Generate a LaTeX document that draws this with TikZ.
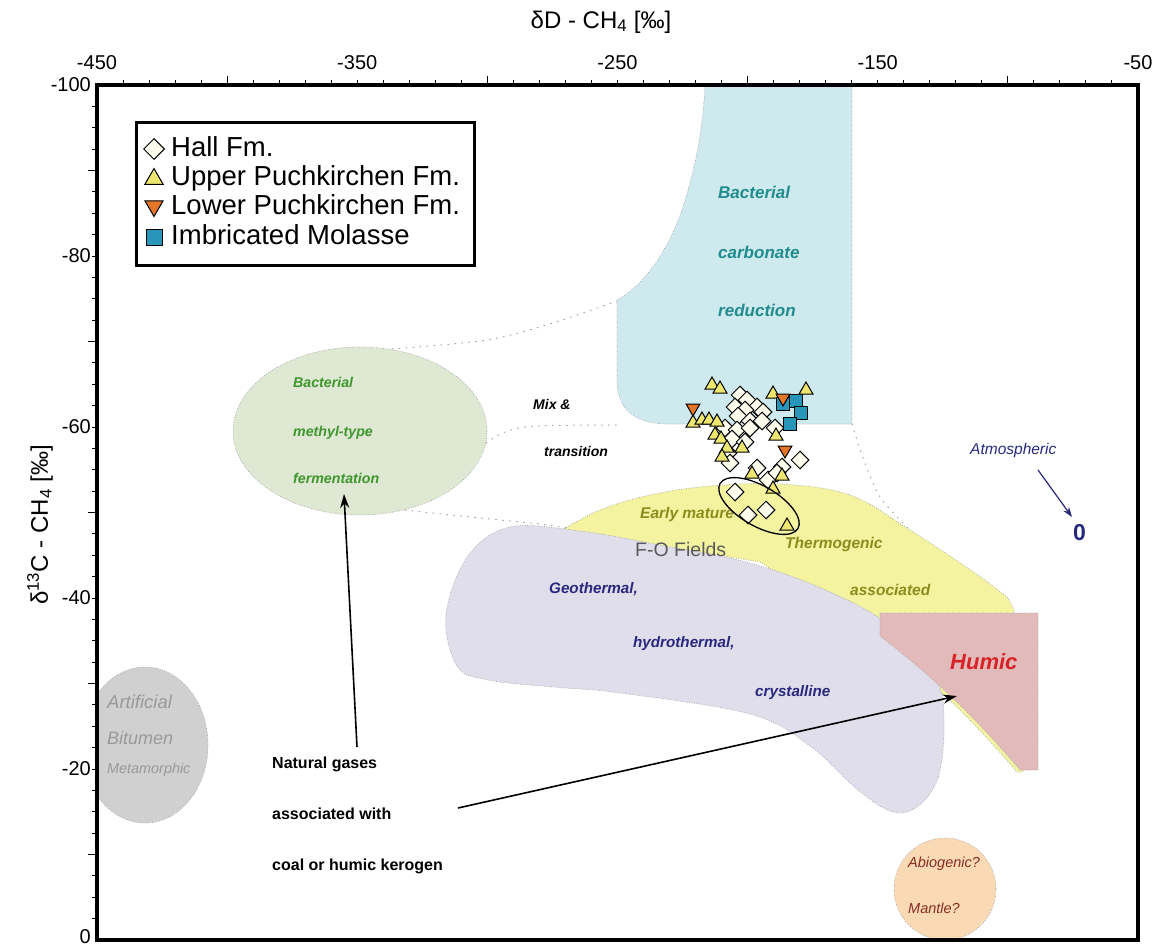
\documentclass[tikz,border=0pt]{standalone}
\usepackage{fontspec}
\setmainfont{Liberation Sans}
\usetikzlibrary{arrows.meta,shapes.geometric}
\definecolor{cyanfill}{RGB}{206,234,238}
\definecolor{greenfill}{RGB}{222,232,210}
\definecolor{yellowfill}{RGB}{243,243,160}
\definecolor{purplefill}{RGB}{225,222,236}
\definecolor{humicfill}{RGB}{227,186,186}
\definecolor{bitufill}{RGB}{208,208,208}
\definecolor{abiofill}{RGB}{249,218,180}
\definecolor{tealtext}{RGB}{32,140,140}
\definecolor{greentext}{RGB}{62,150,45}
\definecolor{olivetext}{RGB}{140,140,30}
\definecolor{navytext}{RGB}{40,40,125}
\definecolor{humictext}{RGB}{215,35,40}
\definecolor{abiotext}{RGB}{135,45,40}
\definecolor{halldia}{RGB}{253,253,238}
\definecolor{uppertri}{RGB}{236,230,110}
\definecolor{lowertri}{RGB}{228,118,40}
\definecolor{imbsq}{RGB}{40,150,185}
\newcommand{\fsz}[1]{\fontsize{#1}{#1}\selectfont}

\begin{document}
\begin{tikzpicture}[x=1pt, y=-1pt,
  field/.style={draw=gray!70, line width=0.7pt, dash pattern=on 0.8pt off 1.6pt},
  mixline/.style={draw=gray!70, line width=1pt, dash pattern=on 1pt off 6pt, line cap=round},
  lbl/.style={inner sep=0pt, anchor=base west, font=\fsz{#1}\bfseries\itshape},
  plain/.style={inner sep=0pt, anchor=base west, font=\fsz{#1}},
  axtick/.style={line width=1pt},
  ticklbl/.style={inner sep=0pt, font=\fsz{20}},
  ptbase/.style={draw=black, line width=1pt, inner sep=0pt},
  hallpt/.style={ptbase, diamond, fill=halldia, minimum width=18pt, minimum height=18pt},
  upperpt/.style={ptbase, regular polygon, regular polygon sides=3, fill=uppertri, minimum size=16pt},
  lowerpt/.style={ptbase, regular polygon, regular polygon sides=3, shape border rotate=180, fill=lowertri, minimum size=16pt},
  imbpt/.style={ptbase, rectangle, fill=imbsq, minimum size=13pt},
  pointer/.style={-{Stealth[length=14pt,width=9pt]}, line width=1.6pt},
]
  \useasboundingbox (0,0) rectangle (1167,947);

  % fields
  \path[field, fill=cyanfill] (705,85) -- (852,85) -- (852,424) -- (668,424)
    .. controls (630,424) and (617,405) .. (617,380) -- (617,300)
    .. controls (645,285) and (668,250) .. (682,210)
    .. controls (695,170) and (703,130) .. (705,85);
  \path[field, fill=greenfill] (360,431) ellipse [x radius=127, y radius=84];
  \path[field, fill=yellowfill] plot[smooth, tension=0.6] coordinates {(562,530) (600,510) (650,495) (710,486) (780,484) (850,495) (910,530) (975,573) (1008,598)}
    -- (1014,610) -- (1023,772) -- (1017,772)
    .. controls (987,737) and (947,692) .. (877,638) -- (760,562) -- cycle;
  \path[field, fill=purplefill] plot[smooth cycle, tension=0.6] coordinates {(446,615) (468,556) (510,527) (580,531) (660,545) (750,563) (830,592) (890,626) (936,680) (944,725) (938,778) (918,806) (893,812) (858,790) (810,746) (750,714) (620,693) (553,687) (488,680) (457,666)};
  \path[field, fill=humicfill] (880,613) -- (1038,613) -- (1038,770) -- (1020,770)
    .. controls (990,735) and (950,690) .. (880,636) -- cycle;
  \begin{scope}
    \clip (97,85) rectangle (1138,940);
    \path[field, fill=bitufill] (145,745) ellipse [x radius=63, y radius=78];
    \path[field, fill=abiofill] (945,889) circle [radius=51];
  \end{scope}

  % mix & transition limits
  \draw[mixline] plot[smooth] coordinates {(392,349) (487,340) (553,323) (617,301)};
  \draw[mixline] plot[smooth] coordinates {(486,443) (505,432) (535,426) (617,425)};
  \draw[mixline] plot[smooth] coordinates {(405,510) (480,518) (540,524) (567,528)};
  \draw[mixline] plot[smooth] coordinates {(852,424) (862,455) (880,497) (910,530)};

  % field labels
  \node[lbl=17, text=tealtext] (bcr1) at (718,198) {Bacterial};
  \node[lbl=17, text=tealtext] (bcr2) at (718,258) {carbonate};
  \node[lbl=17, text=tealtext] (bcr3) at (718,316) {reduction};
  \node[lbl=14.2, text=greentext] (bmf1) at (293,387) {Bacterial};
  \node[lbl=14.2, text=greentext] (bmf2) at (293,436) {methyl-type};
  \node[lbl=14.2, text=greentext] (bmf3) at (293,483) {fermentation};
  \node[lbl=14] (mix1) at (533,409) {Mix \&};
  \node[lbl=14] (mix2) at (544,456) {transition};
  \node[lbl=15.5, text=olivetext] (thm1) at (640,518) {Early mature};
  \node[lbl=15.5, text=olivetext] (thm2) at (785,548) {Thermogenic};
  \node[lbl=15.5, text=olivetext] (thm3) at (850,595) {associated};
  \node[plain=19.5, text=black!65] (fofields) at (635,556) {F-O Fields};
  \node[lbl=15.2, text=navytext] (geo1) at (549,593) {Geothermal,};
  \node[lbl=15.2, text=navytext] (geo2) at (633,647) {hydrothermal,};
  \node[lbl=15.2, text=navytext] (geo3) at (755,696) {crystalline};
  \node[lbl=22, text=humictext] (humic) at (950,669) {Humic};
  \node[plain=15.5, font=\fsz{15.5}\itshape, text=navytext] (atmos) at (970,454) {Atmospheric};
  \node[plain=23, font=\fsz{23}\bfseries, text=navytext] (zero) at (1073,540) {0};
  \node[plain=18.5, font=\fsz{18.5}\itshape, text=black!40] (art1) at (107,708) {Artificial};
  \node[plain=18, font=\fsz{18}\itshape, text=black!40] (art2) at (107,744) {Bitumen};
  \node[plain=14.4, font=\fsz{14.4}\itshape, text=black!40] (art3) at (107,773) {Metamorphic};
  \node[plain=14.5, font=\fsz{14.5}\itshape, text=abiotext] (abio1) at (908,867) {Abiogenic?};
  \node[plain=14.5, font=\fsz{14.5}\itshape, text=abiotext] (abio2) at (908,913) {Mantle?};
  \node[plain=16, font=\fsz{16}\bfseries] (gases) at (272,768) {Natural gases};
  \node[plain=16, font=\fsz{16}\bfseries] (assoc) at (272,819) {associated with};
  \node[plain=16, font=\fsz{16}\bfseries] (kerogen) at (272,870) {coal or humic kerogen};

  % pointers
  \coordinate (gastail) at (357,747);
  \coordinate (fermtip) at (344,494);
  \coordinate (humtail) at (458,808);
  \coordinate (humtip) at (957,696);
  \coordinate (atmtail) at (1038,470);
  \coordinate (atmtip) at (1072,517);
  \draw[pointer] (gastail) -- (fermtip);
  \draw[pointer] (humtail) -- (humtip);
  \draw[-{Stealth[length=10pt,width=7pt]}, line width=1.2pt, navytext] (atmtail) -- (atmtip);

  % samples
  \foreach \p [count=\i] in {(740,395),(747,400),(735,407),(757,407),(763,412),(745,410),(738,416),(750,421),(762,421),(725,428),(737,430),(750,428),(775,428),(732,439),(745,442),(728,453),(730,463),(757,468),(782,467),(800,460),(768,480),(777,473),(735,492),(748,515),(766,510)}
    \node[hallpt] (hall\i) at \p {};
  \foreach \p [count=\i] in {(712,385),(720,389),(773,394),(806,390),(693,423),(702,420),(709,420),(717,422),(715,435),(721,439),(727,448),(742,448),(722,457),(776,436),(752,474),(782,476),(773,489),(787,526)}
    \node[upperpt] (upper\i) at \p {};
  \foreach \p [count=\i] in {(783,404),(796,401),(801,413),(790,424)}
    \node[imbpt] (imb\i) at \p {};
  \foreach \p [count=\i] in {(693,408),(783,398),(785,450)}
    \node[lowerpt] (lower\i) at \p {};
  \draw[line width=1.3pt, rotate around={-30:(759,506)}] (759,506) ellipse [x radius=45, y radius=20];

  % legend
  \node[draw, line width=3pt, minimum width=338pt, minimum height=143pt, inner sep=0pt, anchor=north west] (legend) at (135,121) {};
  \node[hallpt, minimum width=21pt, minimum height=21pt] (keyhall) at (154,149) {};
  \node[upperpt, minimum size=21pt] (keyupper) at (154,179) {};
  \node[lowerpt, minimum size=21pt] (keylower) at (154,206) {};
  \node[imbpt, minimum size=16pt] (keyimb) at (154,237) {};
  \node[plain=27.5] (txthall) at (171,157) {Hall Fm.};
  \node[plain=27.5] (txtupper) at (171,185) {Upper Puchkirchen Fm.};
  \node[plain=27.5] (txtlower) at (171,214) {Lower Puchkirchen Fm.};
  \node[plain=27.5] (txtimb) at (171,244) {Imbricated Molasse};

  % axes
  \draw[line width=4pt] (97,85) rectangle (1138,940);
  \foreach \u in {-440,-430,...,-60}
    \draw[axtick] ({97+(\u+450)*2.6025},85) -- ++(0,-5);
  \foreach \u in {-400,-300,-200,-100}
    \draw[axtick] ({97+(\u+450)*2.6025},85) -- ++(0,-9);
  \foreach \v in {-97.5,-95,...,-2.5}
    \draw[axtick] (97,{940+\v*8.55}) -- ++(-5,0);
  \foreach \v in {-90,-70,-50,-30,-10}
    \draw[axtick] (97,{940+\v*8.55}) -- ++(-9,0);
  \foreach \u [count=\i] in {-450,-350,-250,-150,-50}
    \node[ticklbl, anchor=base] (dlab\i) at ({97+(\u+450)*2.6025},70) {\u};
  \foreach \v [count=\i] in {-100,-80,-60,-40,-20}
    \node[ticklbl, anchor=east] (clab\i) at (91,{940+\v*8.55}) {\v};
  \node[ticklbl, anchor=east] (clab6) at (91,937) {0};
  \node[inner sep=0pt, font=\fsz{24}] (xtitle) at (601,22) {δD - CH\textsubscript{4} [‰]};
  \node[inner sep=0pt, font=\fsz{24}, rotate=90] (ytitle) at (40,525) {δ\textsuperscript{13}C - CH\textsubscript{4} [‰]};
\end{tikzpicture}
\end{document}
